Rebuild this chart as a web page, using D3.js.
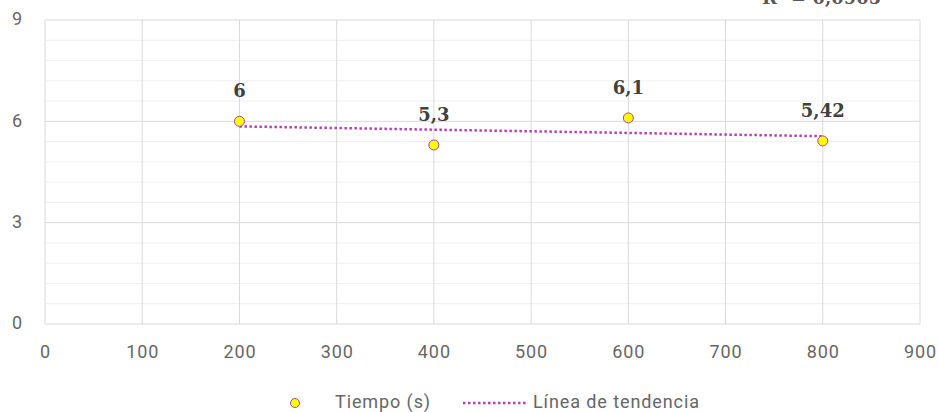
<!DOCTYPE html>
<html>
<head>
<meta charset="utf-8">
<script src="https://cdn.jsdelivr.net/npm/d3@7/dist/d3.min.js"></script>
<style>
  body { margin: 0; background: #fff; }
  svg { display: block; }
</style>
</head>
<body>
<div id="chart"></div>
<script>
// Data
const xValues = [200, 400, 600, 800];
const tiempo = [6, 5.3, 6.1, 5.42];
const pointLabels = ["6", "5,3", "6,1", "5,42"];
const trendX = [200, 800];
const trendY = [5.85, 5.56];
const xTicks = [0, 100, 200, 300, 400, 500, 600, 700, 800, 900];
const yTicks = [0, 3, 6, 9];
const yMinorTicks = [0.6, 1.2, 1.8, 2.4, 3.6, 4.2, 4.8, 5.4, 6.6, 7.2, 7.8, 8.4];
const r2Label = "R² = 0,0905";
const legendNames = ["Tiempo (s)", "Línea de tendencia"];

const width = 939, height = 412;
const margin = { top: 20, right: 20, bottom: 88, left: 45 };

const markerFill = '#ffff00';
const markerStroke = '#b040a0';
const trendColor = '#b540b5';
const textGray = '#666666';
const axisFont = "Roboto, 'Liberation Sans', sans-serif";

const svg = d3.select("#chart").append("svg")
    .attr("width", width)
    .attr("height", height);

const x = d3.scaleLinear().domain([0, 900]).range([margin.left, width - margin.right + 1]);
const y = d3.scaleLinear().domain([0, 9]).range([height - margin.bottom, margin.top]);

// minor horizontal gridlines
svg.append("g")
    .selectAll("line")
    .data(yMinorTicks)
    .enter().append("line")
    .attr("x1", x(0)).attr("x2", x(900))
    .attr("y1", d => y(d)).attr("y2", d => y(d))
    .style("stroke", "#f0f0f0")
    .style("stroke-width", 1);

// major horizontal gridlines
svg.append("g")
    .selectAll("line")
    .data(yTicks)
    .enter().append("line")
    .attr("x1", x(0)).attr("x2", x(900))
    .attr("y1", d => y(d)).attr("y2", d => y(d))
    .style("stroke", "#d9d9d9")
    .style("stroke-width", 1);

// vertical gridlines
svg.append("g")
    .selectAll("line")
    .data(xTicks)
    .enter().append("line")
    .attr("x1", d => x(d)).attr("x2", d => x(d))
    .attr("y1", y(0)).attr("y2", y(9))
    .style("stroke", "#d9d9d9")
    .style("stroke-width", 1);

// axis labels
const xAxis = svg.append("g")
    .attr("transform", `translate(0,${y(0)})`)
    .call(d3.axisBottom(x).tickValues(xTicks).tickSize(0).tickPadding(21).tickFormat(d3.format("d")));
xAxis.select(".domain").remove();
xAxis.selectAll("text")
    .style("font-family", axisFont)
    .style("font-size", "18px")
    .style("letter-spacing", "0.9px")
    .style("fill", textGray);

const yAxis = svg.append("g")
    .attr("transform", `translate(${margin.left},0)`)
    .call(d3.axisLeft(y).tickValues(yTicks).tickSize(0).tickPadding(23).tickFormat(d3.format("d")));
yAxis.select(".domain").remove();
yAxis.selectAll("text")
    .attr("dy", "0.27em")
    .style("font-family", axisFont)
    .style("font-size", "18px")
    .style("fill", textGray);

// trend line
svg.append("line")
    .attr("x1", x(trendX[0])).attr("y1", y(trendY[0]))
    .attr("x2", x(trendX[1])).attr("y2", y(trendY[1]))
    .style("stroke", trendColor)
    .style("stroke-width", 2.5)
    .style("stroke-dasharray", "2.5,2.5");

// points
const points = xValues.map((v, i) => ({ x: v, y: tiempo[i], label: pointLabels[i] }));

svg.append("g")
    .selectAll("circle")
    .data(points)
    .enter().append("circle")
    .attr("cx", d => x(d.x))
    .attr("cy", d => y(d.y))
    .attr("r", 5)
    .style("fill", markerFill)
    .style("stroke", markerStroke)
    .style("stroke-width", 1);

svg.append("g")
    .selectAll("text")
    .data(points)
    .enter().append("text")
    .attr("x", d => x(d.x))
    .attr("y", d => y(d.y) - 24)
    .attr("text-anchor", "middle")
    .style("font-family", "'DejaVu Serif', 'Liberation Serif', serif")
    .style("font-weight", "bold")
    .style("font-size", "18px")
    .style("fill", "#404040")
    .text(d => d.label);

// R squared, partly cut off at the top as in the original
svg.append("text")
    .attr("x", 762)
    .attr("y", 4)
    .style("font-family", "'DejaVu Serif', 'Liberation Serif', serif")
    .style("font-weight", "bold")
    .style("font-size", "18px")
    .style("fill", "#595959")
    .text(r2Label);

// legend
const legend = svg.append("g");
legend.append("circle")
    .attr("cx", 295).attr("cy", 403).attr("r", 4.5)
    .style("fill", markerFill)
    .style("stroke", markerStroke)
    .style("stroke-width", 1);
legend.append("text")
    .attr("x", 335).attr("y", 408)
    .style("font-family", axisFont)
    .style("font-size", "18px")
    .style("letter-spacing", "0.9px")
    .style("fill", textGray)
    .text(legendNames[0]);
legend.append("line")
    .attr("x1", 463).attr("x2", 527)
    .attr("y1", 403).attr("y2", 403)
    .style("stroke", trendColor)
    .style("stroke-width", 2.5)
    .style("stroke-dasharray", "2.5,2.5");
legend.append("text")
    .attr("x", 533).attr("y", 408)
    .style("font-family", axisFont)
    .style("font-size", "18px")
    .style("letter-spacing", "0.9px")
    .style("fill", textGray)
    .text(legendNames[1]);
</script>
</body>
</html>
